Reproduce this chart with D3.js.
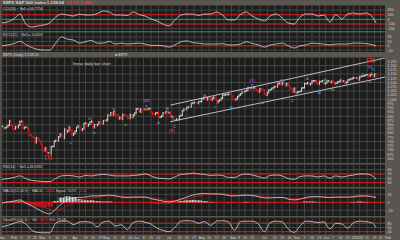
<!DOCTYPE html>
<html>
<head>
<meta charset="utf-8">
<script src="https://cdn.jsdelivr.net/npm/d3@7"></script>
<style>
    body { margin: 0; background: #5a564f; }
    svg { display: block; }
    text { font-family: "Liberation Sans", Arial, sans-serif; }
</style>
</head>
<body>
<svg id="chart"></svg>
<script>
// Daily closes, $SPX, 21 Jan 2009 .. 20 Jan 2010.
const closes = [
    840, 828, 832, 837, 846, 874, 845, 826,
    825, 839, 832, 846, 869, 870, 827, 834, 835, 827, 789, 788, 779, 770, 743, 773, 765, 753, 735,
    701, 696, 713, 683, 683, 677, 720, 721, 751, 757, 754, 778, 794, 784, 769, 823, 806, 814, 833, 816, 788, 798,
    811, 834, 843, 835, 816, 825, 857, 859, 842, 852, 865, 870, 832, 850, 844, 852, 866, 858, 855, 874, 873,
    878, 907, 904, 920, 907, 929, 909, 908, 884, 893, 883, 910, 908, 903, 888, 887, 910, 893, 907, 919,
    943, 945, 932, 942, 940, 939, 942, 939, 945, 946, 924, 912, 911, 918, 921, 893, 895, 901, 920, 919, 927, 919,
    923, 896, 899, 881, 880, 883, 879, 901, 906, 933, 941, 940, 951, 955, 954, 976, 979, 982, 980, 975, 987, 987,
    1003, 1006, 1003, 997, 1010, 1007, 994, 1006, 1013, 1004, 980, 990, 996, 1007, 1026, 1026, 1028, 1028, 1031, 1029, 1021,
    998, 995, 1003, 1016, 1025, 1033, 1044, 1043, 1049, 1053, 1069, 1065, 1068, 1065, 1072, 1061, 1051, 1044, 1063, 1061, 1057,
    1030, 1025, 1040, 1055, 1058, 1065, 1071, 1076, 1073, 1092, 1097, 1088, 1098, 1091, 1081, 1093, 1080, 1067, 1063, 1043, 1066, 1036,
    1043, 1045, 1047, 1067, 1069, 1093, 1093, 1099, 1087, 1093, 1109, 1110, 1110, 1095, 1091, 1106, 1106, 1111, 1091, 1096,
    1109, 1109, 1100, 1106, 1103, 1092, 1096, 1102, 1106, 1114, 1108, 1109, 1096, 1102, 1114, 1118, 1121, 1126, 1128, 1126, 1126, 1115,
    1133, 1137, 1137, 1142, 1145, 1147, 1136, 1146, 1148, 1136, 1150, 1138
];
const holidays = ['2009-02-16', '2009-04-10', '2009-05-25', '2009-07-03', '2009-09-07', '2009-11-26', '2009-12-25', '2010-01-01', '2010-01-18'];

// Indicator readings, every 4th trading day (plus the last one).
const cci = [
    -78, -50, 9, 116, -100, -164, -142, -120, -78, 52,
    116, 95, 73, 116, 95, 95, 127, 181, 160, 95,
    95, 84, 160, 106, 73, 9, -34, -99, -142, -13,
    95, 116, 116, 84, 116, 116, 160, 95, -13, -13,
    106, 160, 73, 9, -34, 73, 116, 30, -78, -99,
    52, 116, 116, 73, 95, -56, 106, 9, 116, 138,
    116, 138, 73, -78
];
const roc = [
    0, 2, 5, 10, 3, -4, -8, -9.5, -9.5, 6,
    20, 15, 13, 6, 9, 12, 6, 6, 10, 4,
    6, 4, 5, 6, 4, 1, 1, 0, -3, 2,
    9, 11, 7, 6, 4, 4, 4, 5, 2, 2,
    4, 9, 5, 2, -3, 2, 4, 6, 0, -5,
    0, 2, 6, 5, 4, 2, 4, 4, 4, 6,
    6, 5, 3, 0
];
const rsi = [
    45, 49, 54, 61, 49, 40, 38, 35, 35, 49,
    61, 63, 61, 56, 63, 61, 65, 68, 65, 61,
    61, 61, 63, 65, 70, 61, 51, 49, 47, 56,
    68, 70, 74, 70, 68, 63, 65, 63, 54, 54,
    65, 70, 65, 58, 51, 63, 65, 61, 49, 45,
    58, 61, 61, 56, 61, 51, 61, 56, 61, 65,
    70, 70, 63, 47
];
const macd = [
    -2, 1, 3, 6, -2, -9, -17, -25, -29, -17,
    -4, 6, 11, 12, 13, 16, 16, 17, 18, 16,
    13, 12, 13, 13, 13, 9, 6, 3, 1, 3,
    8, 13, 18, 21, 22, 21, 21, 20, 17, 16,
    17, 18, 17, 14, 11, 11, 12, 12, 8, 6,
    8, 12, 14, 14, 13, 12, 13, 13, 13, 14,
    16, 16, 14, 12
];
const signal = [
    -1, 0, 1, 3, 2, -1, -6, -12, -18, -20,
    -16, -9, -2, 4, 8, 11, 13, 15, 16, 16,
    15, 14, 13, 13, 13, 12, 10, 7, 5, 4,
    5, 8, 12, 16, 19, 20, 21, 21, 20, 18,
    17, 17, 17, 16, 14, 13, 12, 12, 11, 9,
    9, 10, 12, 13, 13, 13, 13, 13, 13, 13,
    14, 15, 15, 14
];
const histogram = [
    -1, 1, 2, 3, -4, -8, -11, -13, -11, 3,
    12, 15, 13, 8, 5, 5, 3, 2, 2, 0,
    -2, -2, 0, 0, 0, -3, -4, -4, -4, -1,
    3, 5, 6, 5, 3, 1, 0, -1, -3, -2,
    0, 1, 0, -2, -3, -2, 0, 0, -3, -3,
    -1, 2, 2, 1, 0, -1, 0, 0, 0, 1,
    2, 1, -1, -2
];
const sto = [
    56, 65, 80, 92, 75, 30, 15, 12, 12, 80,
    95, 95, 70, 88, 92, 85, 55, 90, 95, 60,
    70, 35, 85, 95, 88, 75, 45, 30, 20, 50,
    95, 98, 95, 80, 92, 65, 95, 98, 90, 30,
    92, 95, 95, 75, 20, 85, 95, 90, 40, 15,
    60, 95, 92, 85, 90, 40, 80, 75, 45, 85,
    95, 92, 85, 50
];

// Trend channel (day index, price).
const channelIdx = [113, 257];
const channelUpper = [966, 1245];
const channelLower = [868, 1132];

// Wave labels: text, day index, price, colour key.
const waveText = ['[1]', 'c', 'ii', 'iii', 'iv', 'v', 'a', 'b', 'c', '(W)', 'A', 'B', '(X)', 'C',
    'A', 'i', 'ii', 'B', '(Y)', 'C', 'A', 'B', 'C', 'A', 'B', 'iii', 'iv', 'i', 'ii', 'v', '[2]', '(Z)', 'C'];
const waveIdx = [31, 46, 45, 59, 62, 75, 83, 93, 97, 97, 105, 111, 114, 116,
    136, 143, 152, 154, 168, 168, 175, 188, 195, 205, 213, 217, 222, 242, 248, 247, 247, 247, 249];
const wavePrice = [653, 742, 842, 884, 801, 943, 854, 931, 961, 996, 860, 943, 813, 842,
    1020, 955, 1043, 949, 1114, 1085, 984, 1109, 996, 1126, 1043, 1120, 1061, 1156, 1156, 1103, 1233, 1197, 1174];
const waveKind = ['red', 'blue', 'green', 'green', 'green', 'green', 'green', 'yellow', 'green', 'purple', 'blue', 'blue', 'purple', 'blue',
    'blue', 'green', 'green', 'blue', 'purple', 'blue', 'blue', 'blue', 'blue', 'blue', 'blue', 'green', 'green', 'green', 'green', 'green', 'red', 'purple', 'blue'];

const W = 400, H = 240;
const COLORS = {
    frame: '#5a564f', panel: '#1d1d1d', grid: '#4e4e4e', text: '#d4d4d4',
    up: '#d6d6d6', down: '#e0161a', red: '#d11', teal: '#2b8a8a', line: '#d8d8d8',
    wave: { red: '#ff2020', blue: '#3a8fd8', green: '#2fbf2f', yellow: '#e0c020', purple: '#9a3ee0' }
};

const svg = d3.select('#chart').attr('width', W).attr('height', H);
svg.append('rect').attr('width', W).attr('height', H).attr('fill', COLORS.frame);

// Trading days, extended a few days past the last bar for the axis.
const fmt = d3.utcFormat('%Y-%m-%d');
const days = [];
for (let d = new Date(Date.UTC(2009, 0, 21)); days.length < 262; d = d3.utcDay.offset(d, 1)) {
    const wd = d.getUTCDay();
    if (wd === 0 || wd === 6 || holidays.includes(fmt(d))) continue;
    days.push(d);
}
const sampleIdx = d3.range(0, closes.length - 1, 4).concat([closes.length - 1]);

const x = d3.scaleLinear().domain([0, 257]).range([2, 385]);
const left = 1.5, right = 385;

// Week starts get a grid line, months/weeks get a label.
const weekStarts = [];
const ticks = [];
days.forEach((d, i) => {
    const newMonth = i === 0 || d.getUTCMonth() !== days[i - 1].getUTCMonth();
    const newWeek = i === 0 || d.getUTCDay() <= days[i - 1].getUTCDay();
    if (newWeek) weekStarts.push(i);
    const last = ticks[ticks.length - 1];
    if (newMonth) {
        // a month name wins over a week number just before it
        if (last && i - last.i <= 3) ticks.pop();
        const label = d.getUTCMonth() === 0 && i > 0 ? String(d.getUTCFullYear()) : d3.utcFormat('%b')(d);
        ticks.push({ i, label });
    } else if (newWeek && i - last.i > 3) {
        ticks.push({ i, label: String(d.getUTCDate()) });
    }
});

const panels = [
    { key: 'cci', top: 5.5, bottom: 31, domain: [-250, 300], grid: [-200, -100, 0, 100, 200], labels: [200, 100, 0, -100, -200] },
    { key: 'roc', top: 32.5, bottom: 52, domain: [-14, 30], grid: [-10, 0, 10, 20], labels: [20, 10, 0, -10] },
    { key: 'main', top: 57.5, bottom: 163, domain: [623, 1248], grid: d3.range(650, 1250, 50), labels: d3.range(650, 1250, 25) },
    { key: 'rsi', top: 164.5, bottom: 187, domain: [10, 113.5], grid: [30, 50, 70, 90], labels: [90, 70, 50, 30] },
    { key: 'macd', top: 188.5, bottom: 216, domain: [-34.25, 34.5], grid: [-20, 0, 20], labels: [20, 0, -20] },
    { key: 'sto', top: 217.5, bottom: 234.5, domain: [0, 121], grid: [20, 50, 80], labels: [80, 50, 20] }
];
const Y = {};

panels.forEach(p => {
    const y = d3.scaleLinear().domain(p.domain).range([p.bottom, p.top]);
    Y[p.key] = y;
    const g = svg.append('g');
    g.append('clipPath').attr('id', 'clip-' + p.key)
        .append('rect').attr('x', left).attr('y', p.top).attr('width', right - left).attr('height', p.bottom - p.top);
    g.append('rect').attr('x', left).attr('y', p.top).attr('width', right - left).attr('height', p.bottom - p.top)
        .attr('fill', COLORS.panel);
    g.selectAll('.vgrid').data(weekStarts.filter(i => x(i) < right)).join('line')
        .attr('x1', i => x(i)).attr('x2', i => x(i)).attr('y1', p.top).attr('y2', p.bottom)
        .attr('stroke', COLORS.grid).attr('stroke-width', 0.8);
    g.selectAll('.hgrid').data(p.grid).join('line')
        .attr('x1', left).attr('x2', right).attr('y1', v => y(v)).attr('y2', v => y(v))
        .attr('stroke', COLORS.grid).attr('stroke-width', 0.8);
    g.selectAll('.ylab').data(p.labels).join('text')
        .attr('x', 387.5).attr('y', v => y(v) + 1.3)
        .attr('font-size', 3.6).attr('fill', COLORS.text)
        .text(v => p.key === 'main' ? d3.format(',')(v) : v);
    p.g = g.append('g').attr('clip-path', `url(#clip-${p.key})`);
});

const panel = key => panels.find(p => p.key === key);

// Reference lines.
function refLine(key, v, color) {
    panel(key).g.append('line')
        .attr('x1', left).attr('x2', right).attr('y1', Y[key](v)).attr('y2', Y[key](v))
        .attr('stroke', color).attr('stroke-width', 1);
}
refLine('cci', 100, COLORS.red);
refLine('cci', 0, COLORS.teal);
refLine('cci', -100, COLORS.red);
refLine('roc', 0, COLORS.red);
refLine('rsi', 70, COLORS.red);
refLine('rsi', 30, COLORS.red);
refLine('macd', 0, COLORS.red);
refLine('sto', 80, COLORS.red);
refLine('sto', 20, COLORS.red);

// Indicator lines.
function drawLine(key, values, color, width) {
    const line = d3.line().x((v, k) => x(sampleIdx[k])).y(v => Y[key](v)).curve(d3.curveMonotoneX);
    panel(key).g.append('path').datum(values)
        .attr('d', line).attr('fill', 'none').attr('stroke', color).attr('stroke-width', width);
}

// MACD histogram with striped bars.
const defs = svg.append('defs');
[['stripeUp', '#e8e8e8'], ['stripeDown', '#e01818']].forEach(([id, c]) => {
    defs.append('pattern').attr('id', id).attr('width', 1.5).attr('height', 4).attr('patternUnits', 'userSpaceOnUse')
        .append('rect').attr('width', 1).attr('height', 4).attr('fill', c);
});
panel('macd').g.selectAll('.hist').data(histogram).join('rect')
    .attr('x', (v, k) => x(sampleIdx[k]) - 3).attr('width', 6)
    .attr('y', v => Y.macd(Math.max(0, v))).attr('height', v => Math.abs(Y.macd(v) - Y.macd(0)))
    .attr('fill', v => v >= 0 ? 'url(#stripeUp)' : 'url(#stripeDown)');

drawLine('cci', cci, COLORS.line, 0.8);
drawLine('roc', roc, COLORS.line, 0.8);
drawLine('rsi', rsi, COLORS.line, 0.8);
drawLine('macd', signal, COLORS.red, 0.8);
drawLine('macd', macd, COLORS.line, 0.8);
drawLine('sto', sto, COLORS.line, 0.8);

// Price bars.
const main = panel('main').g;
main.selectAll('.bar').data(closes).join('line')
    .attr('x1', (c, i) => x(i)).attr('x2', (c, i) => x(i))
    .attr('y1', (c, i) => Y.main(Math.max(c, closes[Math.max(0, i - 1)])) - 0.8)
    .attr('y2', (c, i) => Y.main(Math.min(c, closes[Math.max(0, i - 1)])) + 0.8)
    .attr('stroke', (c, i) => i > 0 && c < closes[i - 1] ? COLORS.down : COLORS.up)
    .attr('stroke-width', 1);
main.selectAll('.tick').data(closes).join('line')
    .attr('x1', (c, i) => x(i)).attr('x2', (c, i) => x(i) + 1)
    .attr('y1', c => Y.main(c)).attr('y2', c => Y.main(c))
    .attr('stroke', (c, i) => i > 0 && c < closes[i - 1] ? COLORS.down : COLORS.up)
    .attr('stroke-width', 0.7);

// Channel.
[channelUpper, channelLower].forEach(ch => {
    main.append('line')
        .attr('x1', x(channelIdx[0])).attr('x2', x(channelIdx[1]))
        .attr('y1', Y.main(ch[0])).attr('y2', Y.main(ch[1]))
        .attr('stroke', '#cfcfcf').attr('stroke-width', 0.9);
});

// Wave labels.
main.selectAll('.wave').data(waveText).join('text')
    .attr('x', (t, k) => x(waveIdx[k])).attr('y', (t, k) => Y.main(wavePrice[k]) + 1.5)
    .attr('text-anchor', 'middle')
    .attr('font-size', (t, k) => waveKind[k] === 'red' ? 6 : 4.2)
    .attr('font-weight', 'bold')
    .attr('fill', (t, k) => COLORS.wave[waveKind[k]])
    .text(t => t);

// Panel titles.
const titles = [
    [3, 4.3, [['$SPX S&P 500 Index  1,138.04  ', COLORS.text], ['-12.19  -1.06%', '#ff3030']]],
    [3, 9.5, [['CCI(20) ~ Sell = 66.7756', COLORS.text]]],
    [3, 36, [['ROC(12) ~ Sell = 3.0459', COLORS.text]]],
    [3, 56.4, [['$SPX (Daily) 1,138.04', COLORS.text]]],
    [115, 56.4, [['\u25A0 $SPX', COLORS.text]]],
    [73, 65, [['linear daily bar chart', '#dcdcdc']]],
    [3, 168.3, [['RSI(14) ~ Sell = 46.9332', COLORS.text]]],
    [3, 192, [['MACD(12,26,9) ~ MACD: ', COLORS.text], ['13.88', '#ff3030'], [', Signal: 15.97, ', COLORS.text], ['-2.09', '#ff3030']]],
    [3, 221, [['SlowSTO(14,3) ~ %K: ', COLORS.text], ['58.55', '#ff3030'], [' %D: 79.09', COLORS.text]]]
];
titles.forEach(([tx, ty, parts], k) => {
    const t = svg.append('text').attr('x', tx).attr('y', ty)
        .attr('font-size', k === 0 ? 4.4 : (k === 5 ? 4.2 : 3.6))
        .attr('font-weight', k === 0 ? 'bold' : 'normal');
    parts.forEach(([s, c]) => t.append('tspan').attr('fill', c).text(s));
});

// Date axis.
svg.selectAll('.xlab').data(ticks.filter(t => x(t.i) < 392)).join('text')
    .attr('x', t => x(t.i)).attr('y', 238.6)
    .attr('text-anchor', 'middle')
    .attr('font-size', 3.4).attr('fill', COLORS.text)
    .text(t => t.label);
</script>
</body>
</html>
